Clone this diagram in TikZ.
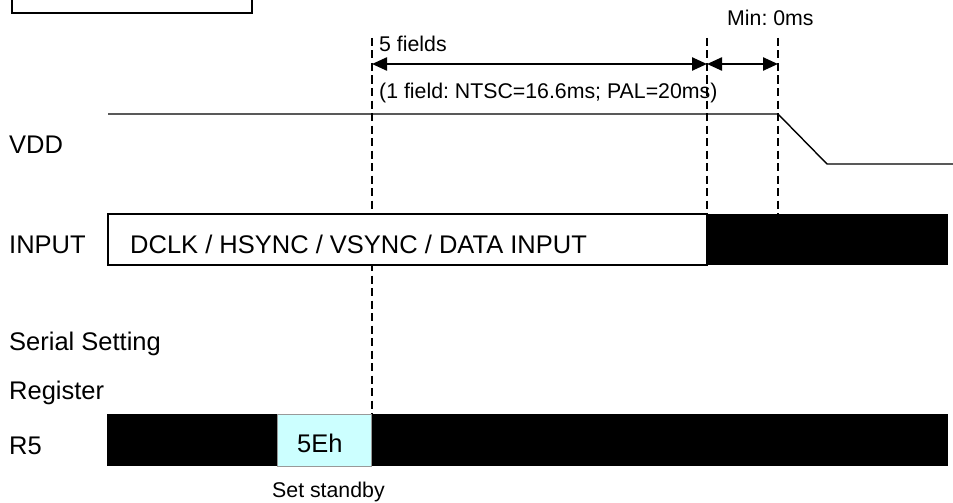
\documentclass[tikz,border=0pt]{standalone}
\usepackage{fontspec}
\setmainfont{Liberation Sans}
\usepackage{tikz}
\usetikzlibrary{arrows.meta}
\frenchspacing
\definecolor{regcyan}{HTML}{CCFFFF}
\newcommand{\bigtxt}{\fontsize{25.5}{30}\selectfont}
\newcommand{\smalltxt}{\fontsize{21.3}{25}\selectfont}

\begin{document}
\begin{tikzpicture}[x=1pt,y=-1pt,
  lbl/.style={font=\bigtxt, anchor=base west, inner sep=0pt},
  note/.style={font=\smalltxt, anchor=base west, inner sep=0pt},
  guide/.style={line width=2.4pt, dash pattern=on 8pt off 4.5pt},
  span/.style={line width=2.4pt, {Triangle[length=15pt,width=13pt]}-{Triangle[length=15pt,width=13pt]}}]
\useasboundingbox (0,0) rectangle (953,503);
\draw[line width=1.2pt] (12,0) -- (12,13) -- (252,13) -- (252,0);
% guides
\coordinate (g1) at (372,38);
\coordinate (g2) at (707,38);
\coordinate (g3) at (778,38);
\draw[guide] (g1) -- (372,414);
\draw[guide] (g2) -- (707,214);
\draw[guide] (g3) -- (778,214);
\coordinate (a1) at (372,64);
\coordinate (a2) at (707,64);
\coordinate (a3) at (778,64);
\draw[span] (a1) -- (a2);
\draw[span] (a2) -- (a3);
\node[note] (fields) at (379,52) {5 fields};
\node[note] (fieldlen) at (379,98.5) {(1 field: NTSC=16.6ms; PAL=20ms)};
\node[note] (minzero) at (727,26) {Min: 0ms};
% VDD
\draw[line width=1.4pt] (108,114) -- (778,114) -- (827,164) -- (953,164);
\node[lbl] (vdd) at (9,153) {VDD};
% INPUT
\draw[line width=1.1pt, fill=white] (108,214) rectangle (707,265);
\fill[black] (707,214) rectangle (948,265);
\node[lbl] (input) at (9,253) {INPUT};
\node[lbl] (inputdata) at (130,253) {DCLK / HSYNC / VSYNC / DATA INPUT};
% register
\node[lbl] (serial) at (9,350.5) {Serial Setting};
\node[lbl] (register) at (9,399.5) {Register};
\node[lbl] (rfive) at (9,454) {R5};
\fill[black] (107,414) rectangle (948,466);
\draw[black!40, line width=0.8pt, fill=regcyan] (277,414) rectangle (371,466);
\node[lbl] (code) at (297,452) {5Eh};
\node[note] (standby) at (272,497) {Set standby};
\end{tikzpicture}
\end{document}
